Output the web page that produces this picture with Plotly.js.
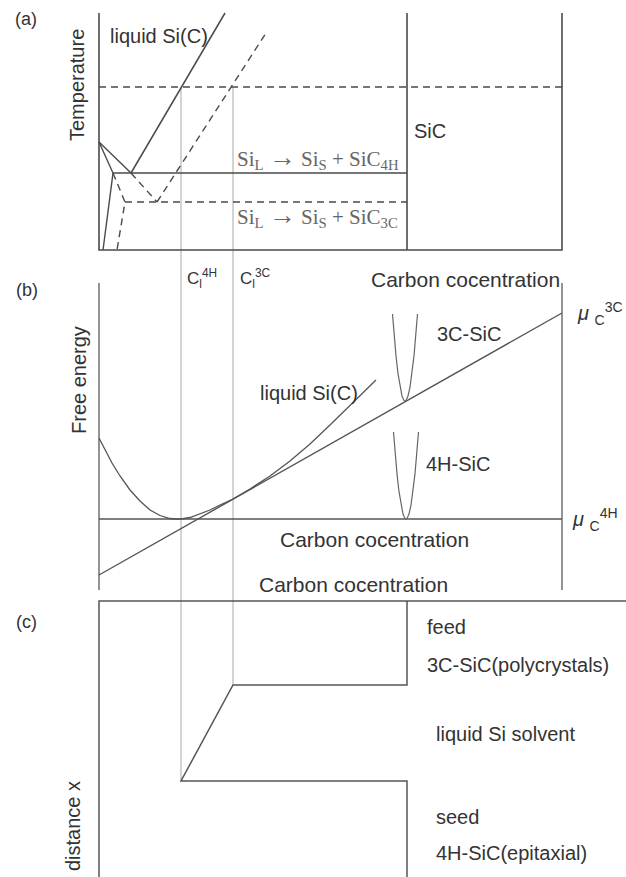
<!DOCTYPE html>
<html>
<head>
<meta charset="utf-8">
<script src="https://cdn.plot.ly/plotly-3.0.1.min.js"></script>
<style>html,body{margin:0;padding:0;background:#fff;}#chart{width:626px;height:877px;}</style>
</head>
<body>
<div id="chart"></div>
<script>
// ---- Panel (a): phase diagram (x: carbon concentration, y: temperature, drawing units) ----
const frameAX = [99, 99, 562, 562, null, 407, 407];
const frameAY = [13, 250, 250, 13, null, 13, 250];
const growthTX = [99, 562];
const growthTY = [87, 87];
const liquidus4HX = [131, 225];
const liquidus4HY = [173, 13];
const liquidus3CX = [157, 266];
const liquidus3CY = [202, 33];
const eutectic4HX = [113, 407];
const eutectic4HY = [173, 173];
const eutectic3CX = [125, 407];
const eutectic3CY = [202, 202];
const solidSiX = [99, 131, null, 99, 113, 103];
const solidSiY = [142, 173, null, 142, 173, 250];
const dashedSiX = [131, 157, null, 113, 125, 117];
const dashedSiY = [173, 202, null, 173, 202, 250];

// ---- Guide lines C_l^4H and C_l^3C ----
const guideX = [181, 181, null, 233, 233];
const guideY = [87, 781, null, 87, 685];

// ---- Panel (b): free energy ----
const frameBX = [99, 99, null, 562, 562];
const frameBY = [283, 590, null, 283, 590];
const mu4HX = [99, 562];
const mu4HY = [519, 519];
const mu3CX = [99, 562];
const mu3CY = [575, 313];
const liquidX = [99, 105, 112, 120, 130, 140, 150, 160, 170, 176, 181, 190, 200, 210, 220, 233, 250, 270, 290, 310, 330, 350, 376];
const liquidY = [438, 450, 463, 476, 490, 501, 510, 515.5, 518.5, 519, 519, 517.5, 514, 510, 505, 499, 489, 476, 461, 444, 425, 405, 380];
const sic3CX = [392.5, 394, 396, 398, 400, 402, 404, 405, 406, 408, 410, 412, 414, 417.5];
const sic3CY = [314, 333.6, 355.9, 373.7, 387.1, 396, 400.4, 401, 400.4, 396, 387.1, 373.7, 355.9, 314];
const sic4HX = [393.5, 395, 397, 399, 401, 403, 405, 406, 407, 409, 411, 413, 415, 418.5];
const sic4HY = [432, 451.6, 473.9, 491.7, 505.1, 514, 518.4, 519, 518.4, 514, 505.1, 491.7, 473.9, 432];

// ---- Panel (c): concentration profile vs distance ----
const frameCX = [626, 99, 99];
const frameCY = [601, 601, 877];
const profileX = [407, 407, 233, 181, 407, 407];
const profileY = [601, 685, 685, 781, 781, 877];

const dark = '#4a4a4a';
const guide = '#a8a8a8';
const txt = '#333333';
const sans = 'Liberation Sans, Arial, Helvetica, sans-serif';
const serif = 'Liberation Serif, Times New Roman, serif';
const dashPat = '7px,5px';

function ln(x, y, color, width, dash) {
  return {x: x, y: y, type: 'scatter', mode: 'lines', hoverinfo: 'skip',
          line: {color: color, width: width, dash: dash || 'solid'}, connectgaps: false};
}

const traces = [
  ln(guideX, guideY, guide, 1),
  ln(frameAX, frameAY, dark, 1.6),
  ln(growthTX, growthTY, dark, 1.3, dashPat),
  ln(liquidus4HX, liquidus4HY, dark, 1.5),
  ln(liquidus3CX, liquidus3CY, dark, 1.4, dashPat),
  ln(eutectic4HX, eutectic4HY, dark, 1.6),
  ln(eutectic3CX, eutectic3CY, dark, 1.4, dashPat),
  ln(solidSiX, solidSiY, dark, 1.4),
  ln(dashedSiX, dashedSiY, dark, 1.4, dashPat),
  ln(frameBX, frameBY, '#666', 1.4),
  ln(mu4HX, mu4HY, '#555', 1.6),
  ln(mu3CX, mu3CY, '#555', 1.4),
  ln(liquidX, liquidY, '#555', 1.3),
  ln(sic3CX, sic3CY, '#666', 1.2),
  ln(sic4HX, sic4HY, '#666', 1.2),
  ln(frameCX, frameCY, '#555', 1.5),
  ln(profileX, profileY, '#555', 1.5)
];

function ann(text, x, y, size, opts) {
  opts = opts || {};
  return Object.assign({text: text, x: x, y: y, xref: 'x', yref: 'y', showarrow: false,
    xanchor: 'left', yanchor: 'middle', font: {family: sans, size: size, color: txt}}, opts);
}

const arrow = '<span style="font-size:27px">→</span>';
const serifFont = {family: serif, size: 21, color: '#666'};

const annotations = [
  ann('(a)', 13, 19, 18),
  ann('(b)', 14, 290, 18),
  ann('(c)', 14, 622, 18),
  ann('Temperature', 77, 85, 20, {xanchor: 'center', textangle: -90}),
  ann('Free energy', 79, 380, 20, {xanchor: 'center', textangle: -90}),
  ann('distance x', 73, 826, 20, {xanchor: 'center', textangle: -90}),
  ann('liquid Si(C)', 108, 36, 20),
  ann('SiC', 412, 131, 20),
  ann('Si<sub>L</sub> ' + arrow + ' Si<sub>S</sub> + SiC<sub>4H</sub>', 235, 157, 21, {font: serifFont}),
  ann('Si<sub>L</sub> ' + arrow + ' Si<sub>S</sub> + SiC<sub>3C</sub>', 235, 215, 21, {font: serifFont}),
  ann('C<sub>l</sub><sup>4H</sup>', 185, 278, 17),
  ann('C<sub>l</sub><sup>3C</sup>', 238, 278, 17),
  ann('Carbon cocentration', 369, 279, 21),
  ann('3C-SiC', 435, 334, 20),
  ann('4H-SiC', 424, 464, 20),
  ann('liquid Si(C)', 258, 393, 20),
  ann('Carbon cocentration', 278, 539, 21),
  ann('Carbon cocentration', 257, 584, 21),
  ann('<i>μ</i> <sub>C</sub><sup>3C</sup>', 575, 313, 20),
  ann('<i>μ</i> <sub>C</sub><sup>4H</sup>', 570, 519, 20),
  ann('feed', 425, 627, 20),
  ann('3C-SiC(polycrystals)', 425, 665, 20),
  ann('liquid Si solvent', 434, 734, 20),
  ann('seed', 434, 817, 20),
  ann('4H-SiC(epitaxial)', 434, 853, 20)
];

const layout = {
  width: 626, height: 877,
  margin: {l: 0, r: 0, t: 0, b: 0, pad: 0},
  paper_bgcolor: '#ffffff', plot_bgcolor: '#ffffff',
  showlegend: false,
  xaxis: {range: [0, 626], visible: false, fixedrange: true},
  yaxis: {range: [877, 0], visible: false, fixedrange: true},
  annotations: annotations
};

Plotly.newPlot('chart', traces, layout, {staticPlot: true, displayModeBar: false});
</script>
</body>
</html>
